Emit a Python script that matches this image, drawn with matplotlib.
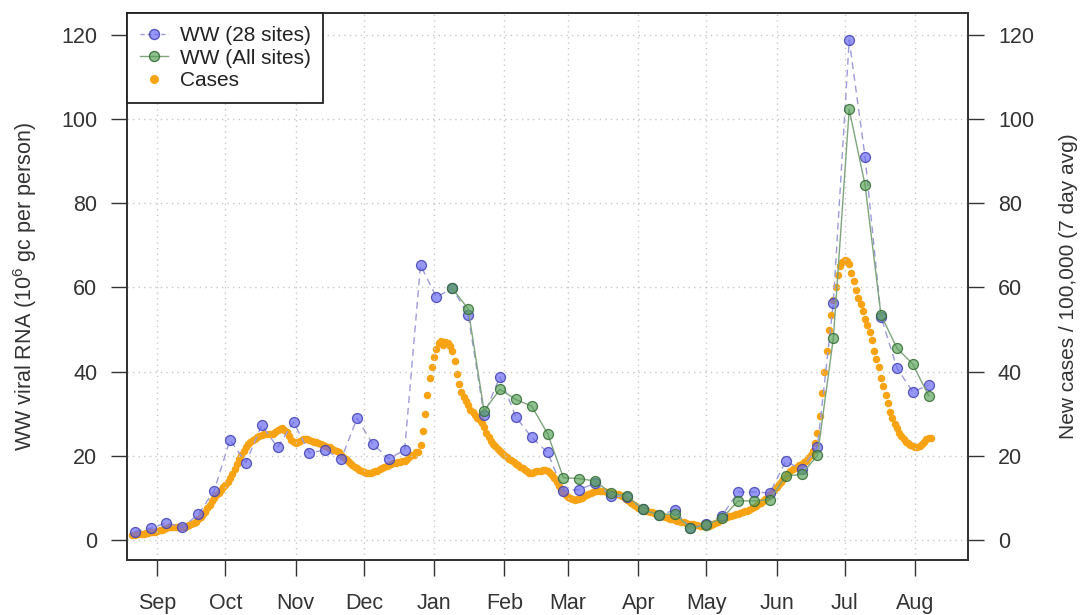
import matplotlib
matplotlib.use("Agg")
import matplotlib.pyplot as plt
import matplotlib.dates as mdates
from matplotlib.lines import Line2D
import numpy as np
import pandas as pd

plt.rcParams['font.family'] = ['Liberation Sans', 'DejaVu Sans']
plt.rcParams['mathtext.fontset'] = 'custom'
plt.rcParams['mathtext.rm'] = 'Liberation Sans'
plt.rcParams['mathtext.it'] = 'Liberation Sans:italic'

# Wastewater viral RNA, weekly samples (10^6 gc per person)
ww28_start = "2020-08-22"
ww28 = [2.0, 2.8, 4.1, 3.0, 6.1, 11.7, 23.8, 18.4, 27.3, 22.0,
        28.0, 20.7, 21.4, 19.2, 28.9, 22.8, 19.3, 21.4, 65.3, 57.7,
        59.8, 53.5, 29.7, 38.8, 29.3, 24.4, 20.8, 11.7, 12.0, 13.5,
        10.5, 10.3, 7.3, 5.9, 7.1, 2.8, 3.8, 5.8, 11.4, 11.4,
        11.2, 18.7, 16.8, 22.2, 56.3, 118.8, 91.0, 53.1, 40.9, 35.2,
        36.8]

wwall_start = "2021-01-09"
wwall = [59.8, 54.9, 30.7, 35.8, 33.4, 31.8, 25.3, 14.8, 14.6, 14.0,
         11.1, 10.5, 7.3, 5.9, 6.3, 2.8, 3.6, 5.2, 9.3, 9.3,
         9.6, 15.2, 15.6, 20.1, 47.9, 102.3, 84.3, 53.5, 45.6, 41.8,
         34.3]

# New cases per 100,000, 7 day average, daily
cases_start = "2020-08-21"
cases = [1.3, 1.3, 1.4, 1.4, 1.5, 1.5, 1.6, 1.7, 1.8, 1.9, 2.0,
         2.1, 2.3, 2.5, 2.7, 2.9, 3.0, 3.1, 3.2, 3.2, 3.1,
         3.1, 3.1, 3.2, 3.4, 3.6, 3.8, 4.1, 4.4, 4.9, 5.5,
         6.1, 6.7, 7.5, 8.4, 9.3, 10.0, 10.6, 11.2, 11.9, 12.5,
         13.1, 13.9, 14.8, 15.8, 16.8, 18.0, 19.2, 20.3, 21.2, 22.0,
         22.8, 23.3, 23.7, 24.1, 24.4, 24.6, 24.9, 25.1, 25.2, 25.1,
         25.1, 25.3, 25.7, 26.1, 26.4, 26.5, 26.2, 25.6, 24.7, 23.8,
         23.2, 23.1, 23.3, 23.6, 23.9, 24.0, 24.0, 23.8, 23.6, 23.4,
         23.2, 23.0, 22.8, 22.6, 22.4, 22.2, 22.0, 21.7, 21.4, 21.2,
         20.8, 20.3, 19.8, 19.3, 18.8, 18.3, 17.8, 17.4, 17.0, 16.7,
         16.4, 16.2, 16.0, 15.9, 16.0, 16.1, 16.3, 16.5, 16.8, 17.0,
         17.3, 17.6, 17.8, 18.0, 18.2, 18.4, 18.5, 18.6, 18.7, 18.8,
         19.2, 19.7, 20.1, 20.3, 20.8, 21.0, 22.5, 26.0, 30.0, 34.5,
         38.5, 41.0, 43.5, 45.5, 46.8, 47.2, 46.3, 47.0, 46.8, 46.0,
         44.8, 42.5, 39.5, 37.0, 35.2, 34.0, 33.0, 32.0, 31.0, 30.3,
         29.6, 29.0, 28.4, 27.8, 26.8, 25.5, 24.4, 23.6, 22.9, 22.3,
         21.7, 21.2, 20.7, 20.2, 19.7, 19.3, 18.9, 18.5, 18.1, 17.8,
         17.4, 17.0, 16.6, 16.3, 16.0, 16.0, 16.1, 16.3, 16.4, 16.5,
         16.6, 16.6, 16.4, 16.0, 15.4, 14.7, 13.8, 12.9, 12.1, 11.4,
         10.8, 10.3, 9.9, 9.7, 9.6, 9.7, 9.8, 10.1, 10.4, 10.7,
         10.9, 11.2, 11.4, 11.6, 11.7, 11.7, 11.7, 11.6, 11.5, 11.3,
         11.2, 11.1, 11.0, 10.9, 10.7, 10.4, 10.0, 9.6, 9.2, 8.8,
         8.4, 8.0, 7.7, 7.4, 7.2, 7.0, 6.9, 6.7, 6.6, 6.4,
         6.2, 6.0, 5.8, 5.6, 5.4, 5.2, 5.1, 4.9, 4.8, 4.6,
         4.5, 4.3, 4.2, 4.0, 3.9, 3.8, 3.7, 3.6, 3.5, 3.4,
         3.3, 3.3, 3.3, 3.4, 3.6, 3.8, 4.1, 4.4, 4.7, 5.0,
         5.2, 5.4, 5.6, 5.8, 6.0, 6.1, 6.3, 6.5, 6.6, 6.8,
         7.0, 7.2, 7.5, 7.8, 8.1, 8.5, 8.9, 9.3, 9.7, 10.3,
         10.9, 11.5, 12.0, 12.5, 13.2, 13.9, 14.6, 15.2, 15.8, 16.3,
         16.8, 17.1, 17.4, 17.8, 18.1, 18.5, 18.8, 19.4, 20.2, 21.2,
         23.0, 25.5, 29.5, 35.0, 40.0, 45.0, 50.0, 53.5, 57.0, 60.0,
         63.0, 65.0, 66.0, 66.5, 66.3, 65.5, 63.5, 61.5, 59.5, 57.5,
         56.0, 54.5, 52.5, 51.0, 49.5, 47.5, 45.0, 43.0, 41.0, 38.5,
         36.5, 34.5, 32.5, 30.5, 29.0, 27.5, 26.5, 25.5, 24.8, 24.0,
         23.4, 23.0, 22.6, 22.3, 22.1, 22.1, 22.3, 22.7, 23.3, 23.9,
         24.2, 24.3]

month_ticks = pd.date_range("2020-09-01", "2021-08-01", freq="MS")
yticks = [0, 20, 40, 60, 80, 100, 120]

ww28_dates = pd.date_range(ww28_start, periods=len(ww28), freq="7D")
wwall_dates = pd.date_range(wwall_start, periods=len(wwall), freq="7D")
cases_dates = pd.date_range(cases_start, periods=len(cases), freq="D")

blue_face = (0.40, 0.40, 0.95, 0.68)
blue_edge = (0.25, 0.25, 0.70, 0.85)
green_face = (0.33, 0.62, 0.33, 0.65)
green_edge = (0.20, 0.42, 0.20, 0.85)
orange = '#F7A313'

fig = plt.figure(figsize=(10.82, 6.15), dpi=100)
ax = fig.add_axes([0.1174, 0.0894, 0.7773, 0.8894])
ax2 = ax.twinx()

sep1 = mdates.date2num(pd.Timestamp("2020-09-01"))
xlim = (sep1 - 13.4, sep1 + 357.4)
ylim = (-4.75, 125.2)

# cases on the right axis, drawn underneath the wastewater series
ax2.plot(cases_dates, cases, linestyle='none', marker='o', markersize=5.4,
         color=orange, markeredgewidth=0, zorder=2)

ax.set_zorder(ax2.get_zorder() + 1)
ax.patch.set_visible(False)

ax.plot(ww28_dates, ww28, color='#9C9CDC', linewidth=1.0, dashes=(5, 3.5),
        marker='o', markersize=7.2, markerfacecolor=blue_face,
        markeredgecolor=blue_edge, markeredgewidth=0.9)
ax.plot(wwall_dates, wwall, color='#7FA57F', linewidth=1.0, linestyle='-',
        marker='o', markersize=7.2, markerfacecolor=green_face,
        markeredgecolor=green_edge, markeredgewidth=0.9)

for a in (ax, ax2):
    a.set_xlim(xlim)
    a.set_ylim(ylim)
    a.set_yticks(yticks)

ax.set_xticks(month_ticks)
ax.xaxis.set_major_formatter(mdates.DateFormatter('%b'))

ax.grid(True, color='#C8C8C8', linestyle=(0, (1, 3)), linewidth=1.0)

tick_kw = dict(direction='out', length=11.5, width=1.0, colors='#333333',
               labelsize=15.5, labelcolor='#333333')
ax.tick_params(axis='x', pad=12, **tick_kw)
ax.tick_params(axis='y', pad=10, **tick_kw)
ax2.tick_params(axis='y', pad=10, **tick_kw)

for a in (ax, ax2):
    for s in a.spines.values():
        s.set_color('#333333')
        s.set_linewidth(1.3)

ax.set_ylabel(r'WW viral RNA ($10^6$ gc per person)', fontsize=15.5,
              color='#333333', labelpad=16)
ax2.set_ylabel('New cases / 100,000 (7 day avg)', fontsize=15,
               color='#333333', labelpad=18)

handles = [
    Line2D([], [], color='#9C9CDC', linewidth=1.0, dashes=(3, 2), marker='o',
           markersize=7.2, markerfacecolor=blue_face, markeredgecolor=blue_edge),
    Line2D([], [], color='#7FA57F', linewidth=1.0, marker='o', markersize=7.2,
           markerfacecolor=green_face, markeredgecolor=green_edge),
    Line2D([], [], linestyle='none', marker='o', markersize=6.5,
           color=orange, markeredgewidth=0),
]
labels = ['WW (28 sites)', 'WW (All sites)', 'Cases']
leg = ax.legend(handles, labels, loc='upper left', bbox_to_anchor=(0, 1),
                borderaxespad=0, fancybox=False, framealpha=1,
                edgecolor='#222222', fontsize=15, handlelength=1.35,
                handletextpad=0.55, labelspacing=0.18, borderpad=0.62)
leg.get_frame().set_linewidth(1.3)
for t in leg.get_texts():
    t.set_color('#222222')

plt.savefig('out.png', dpi=100)
